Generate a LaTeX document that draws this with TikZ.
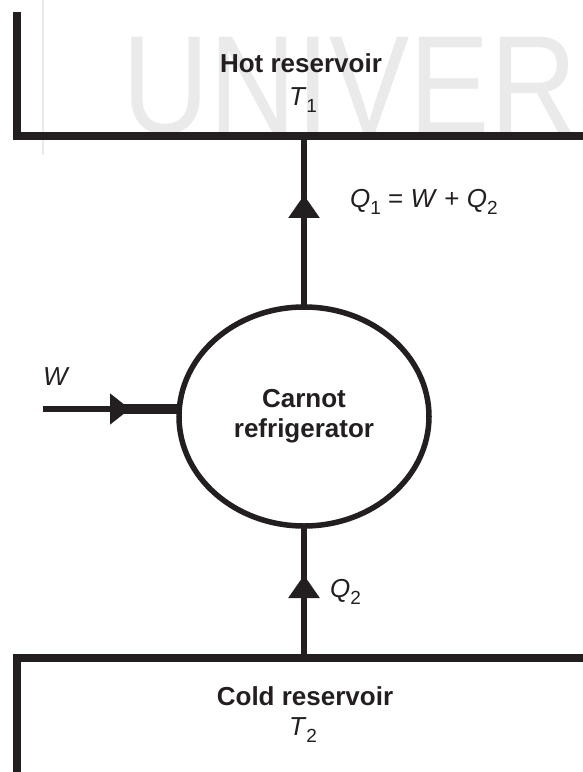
\documentclass[tikz,border=0pt]{standalone}
\usepackage{fontspec}
\setmainfont{Liberation Sans}
\usetikzlibrary{arrows.meta,decorations.markings,shapes.geometric}
\definecolor{ink}{RGB}{35,31,32}
\definecolor{wmark}{RGB}{234,234,234}
\newcommand{\lsub}[1]{\raisebox{-0.3em}{\fontsize{19bp}{19bp}\selectfont #1}}
\begin{document}
\begin{tikzpicture}[x=1bp,y=-1bp,
  lab/.style={font=\fontsize{26bp}{30bp}\selectfont, text=ink, inner sep=0},
  blab/.style={font=\fontsize{26bp}{30bp}\selectfont\bfseries, text=ink, inner sep=0},
  wall/.style={draw=ink, line width=8bp, line join=miter},
  flow/.style={draw=ink, line width=6bp},
  midtip/.style={postaction={decorate, decoration={markings,
      mark=at position #1 with {\arrow[ink]{Triangle[width=30bp,length=23bp]}}}}},
  engine/.style={ellipse, draw=ink, line width=5.5bp, minimum width=250bp,
      minimum height=219bp, inner sep=0, outer sep=0, align=center,
      font=\fontsize{26bp}{30bp}\selectfont\bfseries, text=ink}]
\useasboundingbox (0,0) rectangle (583,772);
\clip (0,0) rectangle (583,772);
% watermark
\node[anchor=base west, inner sep=0, text=wmark,
      font=\fontsize{140bp}{140bp}\selectfont] (wm) at (122,133)
      {\scalebox{0.86}[1]{UNIVERS}};
\draw[wmark, line width=1.5bp] (43,0) -- (43,155);
% reservoirs
\draw[wall] (17,12) -- (17,136) -- (600,136);
\draw[wall] (600,658) -- (17,658) -- (17,790);
\coordinate (hotbot) at (304,136);
\coordinate (coldtop) at (304,658);
\node[blab, anchor=base] (hotname) at (301,73) {Hot reservoir};
\node[lab, anchor=base] (t1) at (303,105) {\textit{T}\lsub{1}};
\node[blab, anchor=base] (coldname) at (305,705) {Cold reservoir};
\node[lab, anchor=base] (t2) at (303,735) {\textit{T}\lsub{2}};
% engine
\node[engine] (fridge) at (304,416.5) {Carnot\\refrigerator};
% heat flows
\draw[flow, midtip=112bp] (fridge.north) -- (hotbot);
\draw[flow, midtip=83bp] (coldtop) -- (fridge.south);
\node[lab, anchor=base west] (q1) at (350,207)
  {\textit{Q}\lsub{1} = \textit{W} + \textit{Q}\lsub{2}};
\node[lab, anchor=base west] (q2) at (330,597) {\textit{Q}\lsub{2}};
% work input
\coordinate (wstart) at (43,409);
\coordinate (wtip) at (130,409);
\coordinate (wthick) at (122,409);
\draw[ink, line width=10bp] (wthick) -- (wthick -| fridge.west);
\draw[flow, -{Triangle[length=20bp,width=30bp]}] (wstart) -- (wtip);
\node[lab, anchor=base west] (w) at (43,385) {\textit{W}};
\end{tikzpicture}
\end{document}
